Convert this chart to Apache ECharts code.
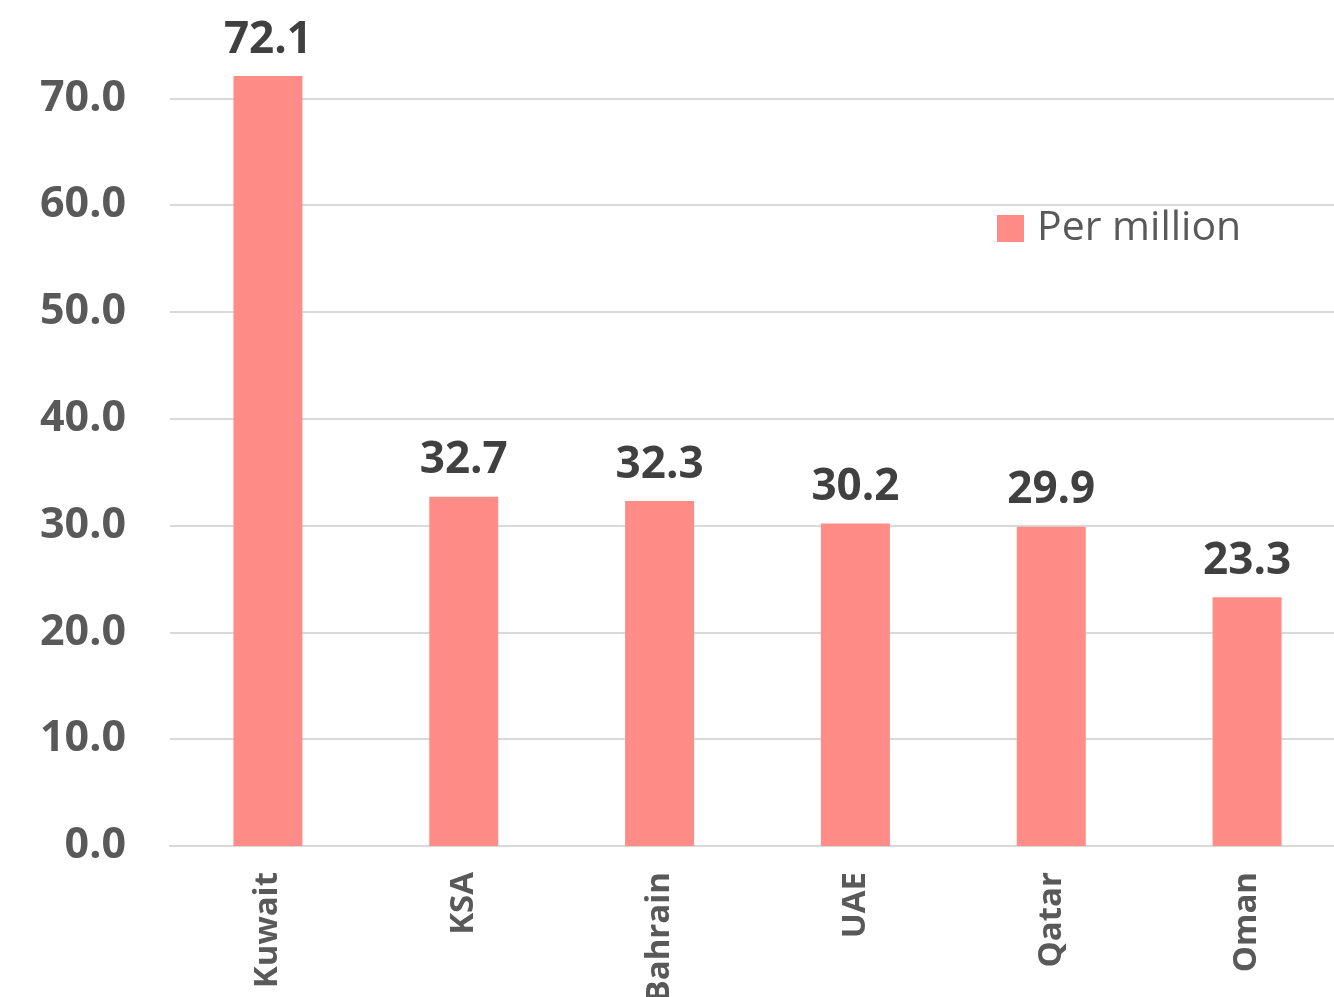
<!DOCTYPE html>
<html>
<head>
<meta charset="utf-8">
<script src="https://cdn.jsdelivr.net/npm/echarts@6/dist/echarts.min.js"></script>
<style>
html,body{margin:0;padding:0;background:#fff;overflow:hidden;}
#chart{width:1334px;height:997px;}
</style>
</head>
<body>
<div id="chart"></div>
<script>
const categories = ['Kuwait', 'KSA', 'Bahrain', 'UAE', 'Qatar', 'Oman'];
const perMillion = [72.1, 32.7, 32.3, 30.2, 29.9, 23.3];
const seriesName = 'Per million';

const chart = echarts.init(document.getElementById('chart'), null, {renderer: 'canvas'});
chart.setOption({
  animation: false,
  backgroundColor: '#ffffff',
  textStyle: {fontFamily: 'Open Sans'},
  grid: {left: 170, width: 1175, top: 45, height: 801, containLabel: false, outerBoundsMode: 'none'},
  legend: {
    data: [seriesName],
    left: 997, top: 208,
    padding: 0,
    itemWidth: 27, itemHeight: 27,
    icon: 'rect',
    textStyle: {fontFamily: 'Open Sans', fontSize: 41, color: '#595959', padding: [0, 0, 0, 8]}
  },
  xAxis: {
    type: 'category',
    data: categories,
    axisLine: {show: true, lineStyle: {color: '#D9D9D9', width: 2}},
    axisTick: {show: false},
    axisLabel: {rotate: 90, margin: 26, fontFamily: 'Open Sans', fontWeight: 'bold', fontSize: 33, color: '#595959'}
  },
  yAxis: {
    type: 'value',
    min: 0, max: 75, interval: 10,
    axisLine: {show: false},
    axisTick: {show: false},
    splitLine: {show: true, showMaxLine: false, lineStyle: {color: '#D9D9D9', width: 2}},
    axisLabel: {showMaxLabel: false, margin: 44, fontFamily: 'Open Sans', fontWeight: 'bold', fontSize: 43, color: '#595959',
      formatter: v => v.toFixed(1)}
  },
  series: [{
    name: seriesName,
    type: 'bar',
    data: perMillion,
    barWidth: 69,
    itemStyle: {color: '#FF8C87'},
    label: {show: true, position: 'top', distance: 14, fontFamily: 'Open Sans', fontWeight: 'bold', fontSize: 44, color: '#404040',
      formatter: p => p.value.toFixed(1)}
  }]
});
</script>
</body>
</html>
